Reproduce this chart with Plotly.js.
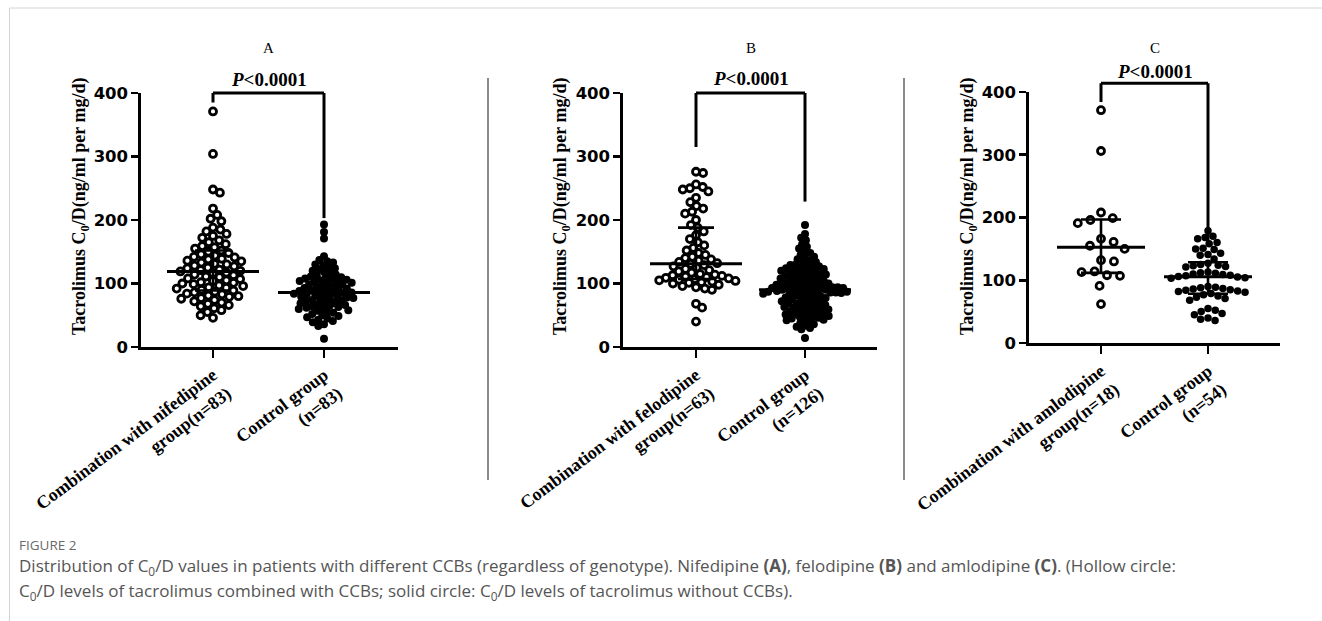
<!DOCTYPE html>
<html>
<head>
<meta charset="utf-8">
<script src="https://cdn.plot.ly/plotly-3.0.1.min.js"></script>
<style>html,body{margin:0;padding:0;background:#fff;}#chart{width:1322px;height:621px;}</style>
</head>
<body>
<div id="chart"></div>
<script>
// ---------------- DATA ----------------
const panelTitles = ['A', 'B', 'C'];
const yTicks = [0, 100, 200, 300, 400];
const groupLabels = [
  ['Combination with nifedipine<br>group(n=83)', 'Control group<br>(n=83)'],
  ['Combination with felodipine<br>group(n=63)', 'Control group<br>(n=126)'],
  ['Combination with amlodipine<br>group(n=18)', 'Control group<br>(n=54)']
];
const pValues = ['<0.0001', '<0.0001', '<0.0001'];

const nifedipineGroup = [371,304,248,243,218,208,202,198,188,185,182,178,175,172,168,165,
  162,159,157,155,152,150, 148,146,144,142,141,139,138,136, 135,133,131,130,128,127,125,124,122,
  121,120,119,117,116,114,113,111,110,108, 107,105,104,102,101,100,99,97,96,94,
  93,92,90,89,87,86,84,83,81,80, 79,77,76,74,72,70,68,66, 64,61,58,55, 50,46];
const nifedipineControl = [193,181,171,143,137, 135,133,130,128,126,124,
  122,120,118,116,114,113,111,110,109, 108,107,106,105,104,103,102,101,100,99,98,96,95,
  94,93,92,91,90,89,88,87,86,85,85,84,83,82,81, 80,79,78,77,76,75,74,73,72,71,70,69,67,
  66,65,64,63,62,61,60,58,57,55,54, 52,50,49,47,45,43,41,39, 36,33,13];
const felodipineGroup = [276,274,256,252,250,248,245,235,228,222,218,213,210,200,192,188,
  182,176,170,165,160,156,152,148,145,142,140,138,136,134,132, 131,
  129,127,125,123,121,119,117,115,114,113,112,111,110,109,108,107,106,105,104,103,102,101,100,
  98,96,94,92,90,68,62,40];
const felodipineControl = [192,178,172,168,162,158,155,150,
  148,145,142,140,138,136,134,132,130,129,128,127,126,125,124,123,122,121,120,119,118,117,116,115,
  114,113,112,111,110,109,108,107,106,105,104,103,102,101,100,100,99,99,98,97,96,96,95,94,94,93,93,92,92,91,
  90,90,
  89,89,88,88,87,87,86,86,85,85,84,84,83,82,81,80,79,78,77,76,75,74,73,72,71,70,69,68,67,66,65,64,63,62,
  61,60,59,58,57,56,55,54,53,52,51,50,49,48,47,46,45,44,43,42,40,38,36,34,32,30,28,14];
const amlodipineGroup = [371,306,208,199,196,191,166,161,155,150,132,130,114,113,108,107,91,62];
const amlodipineControl = [179,170,168,166,160,158,151,150,149,143,141,140,134,127,125,124,123,122,121,
  113,112,111,110,109,108,107,106,105,104,103,90,89,88,87,86,85,84,83,82,81,79,77,75,73,71,68,
  55,52,50,47,45,40,38,36];

// significance brackets (in y-axis units)
const bracketTop = [400, 400, 414];
const bracketLeftEnd = [385, 315, 384];
const bracketRightEnd = [203, 229, 156];

const seriesByPanel = [
  [nifedipineGroup, nifedipineControl],
  [felodipineGroup, felodipineControl],
  [amlodipineGroup, amlodipineControl]
];

// ---------------- LAYOUT GEOMETRY (pixels) ----------------
const W = 1322, H = 621;
const geom = [
  {x0:141, x1:398, c0:213, c1:324, yTop:93, yBot:347, titleX:81, pY:79, dH:7.6, dS:6, sS:8, medHW:46, capHW:18},
  {x0:623, x1:877, c0:696, c1:805, yTop:93, yBot:347, titleX:562, pY:78, dH:7.2, dS:5.4, sS:8, medHW:46, capHW:18},
  {x0:1029, x1:1280, c0:1101, c1:1208, yTop:92, yBot:343, titleX:969, pY:72, dH:13, dS:7.5, sS:7.5, medHW:44, capHW:20}
];
const px = v => v / W;
const py = v => 1 - v / H;
const SERIF = '"Liberation Serif", "Times New Roman", serif';
const SANSB = '"DejaVu Sans", "Liberation Sans", sans-serif';
const CAPF = '"Open Sans", "Noto Sans", sans-serif';

function quant(arr, p) {
  const s = [...arr].sort((a, b) => a - b), n = s.length;
  let r = (n + 1) * p; r = Math.max(1, Math.min(n, r));
  const lo = Math.floor(r), hi = Math.ceil(r);
  return s[lo - 1] + (s[hi - 1] - s[lo - 1]) * (r - lo);
}
// deterministic beeswarm: offsets in x units
function swarm(values, d, ppuX, ppuY) {
  const idx = values.map((v, i) => i).sort((a, b) => values[b] - values[a]);
  const placed = [], off = new Array(values.length);
  let flip = 1;
  for (const i of idx) {
    const y = values[i] * ppuY;
    const near = placed.filter(p => Math.abs(p.y - y) < d);
    const cands = [0];
    near.forEach(p => { const dx = Math.sqrt(d * d - (p.y - y) ** 2); cands.push(p.x + dx, p.x - dx); });
    cands.sort((a, b) => (Math.abs(a) - Math.abs(b)) || (flip * (a - b)));
    let best = 0;
    for (const c of cands) {
      if (near.every(p => (p.x - c) ** 2 + (p.y - y) ** 2 >= d * d - 1e-6)) { best = c; break; }
    }
    flip = -flip;
    placed.push({x: best, y: y});
    off[i] = best / ppuX;
  }
  return off;
}

const traces = [], shapes = [], annotations = [];
const layout = {
  width: W, height: H, margin: {l:0, r:0, t:0, b:0},
  paper_bgcolor: '#fff', plot_bgcolor: 'rgba(0,0,0,0)', showlegend: false,
  font: {family: SERIF, color: '#000'}
};

geom.forEach((g, p) => {
  const s = p === 0 ? '' : String(p + 1);
  const xa = 'x' + s, ya = 'y' + s;
  const yMax = yTicks[yTicks.length - 1];
  const ppuX = g.c1 - g.c0;
  const ppuY = (g.yBot - g.yTop) / yMax;
  const xr = [-(g.c0 - g.x0) / ppuX, 1 + (g.x1 - g.c1) / ppuX];

  layout['xaxis' + s] = {
    domain: [px(g.x0), px(g.x1)], range: xr, anchor: ya,
    showline: true, linecolor: '#000', linewidth: 2.6, mirror: false,
    showgrid: false, zeroline: false, ticks: 'outside', ticklen: 8, tickwidth: 2.6, tickcolor: '#000',
    tickvals: [0, 1], ticktext: groupLabels[p], tickangle: -37,
    tickfont: {family: SERIF, size: 18, color: '#000', weight: 'bold'}, fixedrange: true
  };
  layout['yaxis' + s] = {
    domain: [py(g.yBot), py(g.yTop)], range: [0, yMax], anchor: xa,
    showline: true, linecolor: '#000', linewidth: 2.6,
    showgrid: false, zeroline: false, ticks: 'outside', ticklen: 7, tickwidth: 2.6, tickcolor: '#000',
    tickvals: yTicks, ticktext: yTicks.map(String),
    tickfont: {family: SANSB, size: 16.5, color: '#000', weight: 'bold'}, fixedrange: true
  };

  const groups = seriesByPanel[p];
  groups.forEach((vals, gi) => {
    const hollow = gi === 0;
    const off = swarm(vals, hollow ? g.dH : g.dS, ppuX, ppuY);
    traces.push({
      type: 'scatter', mode: 'markers', xaxis: xa, yaxis: ya, hoverinfo: 'y',
      x: vals.map((v, i) => gi + off[i]), y: vals, cliponaxis: false,
      marker: hollow ? {size: 7, color: '#fff', line: {color: '#000', width: 2.8}}
                     : {size: g.sS, color: '#000', line: {width: 0}}
    });
  });
  groups.forEach((vals, gi) => {
    const med = quant(vals, 0.5), q1 = quant(vals, 0.25), q3 = quant(vals, 0.75);
    traces.push({
      type: 'scatter', mode: 'markers', xaxis: xa, yaxis: ya, hoverinfo: 'skip',
      x: [gi], y: [med], marker: {size: 1, color: 'rgba(0,0,0,0)'},
      error_y: {type: 'data', symmetric: false, array: [q3 - med], arrayminus: [med - q1],
                color: '#000', thickness: 2.6, width: g.capHW}
    });
    const hw = g.medHW / ppuX;
    traces.push({
      type: 'scatter', mode: 'lines', xaxis: xa, yaxis: ya, hoverinfo: 'skip',
      x: [gi - hw, gi + hw], y: [med, med], line: {color: '#000', width: 3}
    });
  });

  // bracket
  const yd = ya + ' domain';
  const bl = {color: '#000', width: 3};
  shapes.push({type: 'line', xref: xa, yref: yd, x0: 0, x1: 1, y0: bracketTop[p] / yMax, y1: bracketTop[p] / yMax, line: bl});
  shapes.push({type: 'line', xref: xa, yref: yd, x0: 0, x1: 0, y0: bracketTop[p] / yMax, y1: bracketLeftEnd[p] / yMax, line: bl});
  shapes.push({type: 'line', xref: xa, yref: yd, x0: 1, x1: 1, y0: bracketTop[p] / yMax, y1: bracketRightEnd[p] / yMax, line: bl});

  annotations.push({xref: xa, yref: 'paper', x: 0.5, y: py(g.pY), xanchor: 'center', yanchor: 'middle',
    showarrow: false, text: '<i>P</i>' + pValues[p].replace('<', '&lt;'),
    font: {family: SERIF, size: 19, color: '#000', weight: 'bold'}});
  annotations.push({xref: xa, yref: 'paper', x: 0.5, y: py(48), xanchor: 'center', yanchor: 'middle',
    showarrow: false, text: panelTitles[p], font: {family: SERIF, size: 15, color: '#000'}});
  annotations.push({xref: 'paper', yref: 'paper', x: px(g.titleX), y: py(206), xanchor: 'center', yanchor: 'middle',
    showarrow: false, textangle: -90, text: 'Tacrolimus C<sub>0</sub>/D(ng/ml per mg/d)',
    font: {family: SERIF, size: 18, color: '#000', weight: 'bold'}});
});

// separators and frame
[488, 904].forEach(x => shapes.push({type: 'line', xref: 'paper', yref: 'paper', x0: px(x), x1: px(x), y0: py(78), y1: py(480), line: {color: '#8a8a8a', width: 2}}));
shapes.push({type: 'line', xref: 'paper', yref: 'paper', x0: px(9.5), x1: px(9.5), y0: py(8), y1: 0, line: {color: '#d4d4d4', width: 1}});
shapes.push({type: 'line', xref: 'paper', yref: 'paper', x0: px(9.5), x1: 1, y0: py(8), y1: py(8), line: {color: '#d4d4d4', width: 1}});

// caption
annotations.push({xref: 'paper', yref: 'paper', x: px(17), y: py(545), xanchor: 'left', yanchor: 'middle', showarrow: false,
  text: 'FIGURE 2', font: {family: CAPF, size: 13.5, color: '#6a6a6a'}});
annotations.push({xref: 'paper', yref: 'paper', x: px(17), y: py(566), xanchor: 'left', yanchor: 'middle', showarrow: false,
  text: 'Distribution of C<sub>0</sub>/D values in patients with different CCBs (regardless of genotype). Nifedipine <b>(A)</b>, felodipine <b>(B)</b> and amlodipine <b>(C)</b>. (Hollow circle:',
  font: {family: CAPF, size: 17, color: '#555'}});
annotations.push({xref: 'paper', yref: 'paper', x: px(17), y: py(591), xanchor: 'left', yanchor: 'middle', showarrow: false,
  text: 'C<sub>0</sub>/D levels of tacrolimus combined with CCBs; solid circle: C<sub>0</sub>/D levels of tacrolimus without CCBs).',
  font: {family: CAPF, size: 17, color: '#555'}});

layout.shapes = shapes;
layout.annotations = annotations;
Plotly.newPlot('chart', traces, layout, {displayModeBar: false, staticPlot: true});
</script>
</body>
</html>
